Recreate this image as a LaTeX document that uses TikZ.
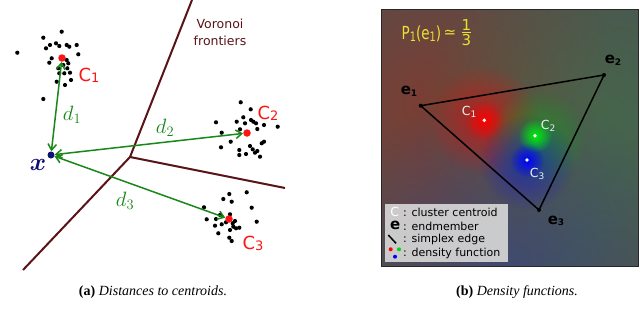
\documentclass[tikz,border=0pt]{standalone}
\usepackage{amsmath}
\usepackage{graphicx}
\usepackage{fontspec}
\setmainfont{Liberation Serif}
\newfontfamily\dv{DejaVu Sans}
\usetikzlibrary{arrows.meta,fadings}
\tikzfading[name=radfade, inner color=transparent!0, outer color=transparent!100]
\definecolor{vorcol}{RGB}{90,20,25}
\definecolor{dgreen}{RGB}{25,135,25}
\definecolor{xblue}{RGB}{15,15,120}
\definecolor{cred}{RGB}{255,20,20}
\definecolor{bgbase}{RGB}{78,82,80}
\definecolor{fyellow}{RGB}{232,226,50}
\definecolor{legbg}{RGB}{214,214,214}
\definecolor{clab}{RGB}{238,238,238}
\definecolor{framecol}{RGB}{40,40,40}
\definecolor{bred}{RGB}{150,50,35}
\definecolor{bgreen}{RGB}{60,120,75}
\definecolor{bblue}{RGB}{50,70,140}
\newcommand\mysub[3]{\raisebox{-#3pt}{\fontsize{#2}{#2}\selectfont #1}}
\tikzset{
  vor/.style={draw=vorcol, line width=2pt},
  vortext/.style={text=vorcol, font=\dv\fontsize{12.5}{12.5}\selectfont, inner sep=0, anchor=base},
  pt/.style={fill=black},
  cdot/.style={circle, fill=cred, inner sep=0, minimum size=7.5pt},
  xdot/.style={circle, fill=xblue, inner sep=0, minimum size=7pt},
  darr/.style={draw=dgreen, line width=1.5pt, {Straight Barb[length=6pt,width=8.5pt]}-{Straight Barb[length=6pt,width=8.5pt]}},
  dlab/.style={text=dgreen, font=\fontsize{20.74}{20.74}\selectfont, inner sep=0},
  clabL/.style={text=cred, font=\dv\fontsize{18}{18}\selectfont, inner sep=0},
  clabR/.style={text=clab, font=\dv\fontsize{12.5}{12.5}\selectfont, inner sep=0},
  elab/.style={text=black, font=\dv\bfseries\fontsize{15}{15}\selectfont, inner sep=0},
  vdot/.style={circle, fill=black, inner sep=0, minimum size=4pt},
  wdot/.style={circle, fill=white, inner sep=0, minimum size=3.8pt},
  edge/.style={draw=black, line width=1.5pt},
  glow/.style={path fading=radfade},
  ytext/.style={text=fyellow, inner sep=0},
  legtext/.style={text=black, font=\dv\fontsize{11}{11}\selectfont, inner sep=0, anchor=west},
  captext/.style={font=\fontsize{14}{14}\selectfont, inner sep=0},
}
\begin{document}
\begin{tikzpicture}[x=1pt,y=-1pt]
\useasboundingbox (0,0) rectangle (640,316);
\fill[white] (0,0) rectangle (640,316);

% ---------------- left panel ----------------
\coordinate (vt) at (192,0);
\coordinate (vj) at (130,157);
\coordinate (vb) at (23,270);
\coordinate (vr) at (285,188);
\draw[vor] (vt) -- (vj) -- (vb);
\draw[vor] (vj) -- (vr);
\node[vortext] (vor1) at (220,28.3) {Voronoi};
\node[vortext] (vor2) at (220,45) {frontiers};

\foreach \x/\y in {61.7/31.7, 43.3/37.7, 50/45, 46/48.3, 56/43.3, 59.3/46, 66.7/45, 69.3/46.7, 76.7/45, 78.3/54.3, 17.3/52.7, 51.7/58.3, 49.3/62.7, 58.3/68.3, 63.3/65, 68.3/63.3, 67.3/68.3, 70/72.7, 64.3/73.3, 59.3/73.3, 56.7/81.7, 71/80, 65/85, 43.3/99, 66.7/60,
  240.7/102.3, 250.7/109.3, 216/122.3, 236.7/121.7, 243.3/117.3, 245/123.3, 251/120, 253.3/121.7, 256/123.3, 264/125, 277.7/126.7, 257.3/129, 221.7/132.7, 230.7/141.7, 240/129.3, 221/147.3, 239.3/150, 239.3/155, 246/154, 250/146, 252.7/149.3, 257.3/151, 261.7/143.3, 264/141.7, 260/156.7, 255/152.7,
  229.3/194, 246.7/192.3, 223.3/199, 231.7/201.7, 251.7/207.7, 204/207.3, 206.7/219.3, 216/219, 220/215, 230/214.3, 226/222.3, 215/225.7, 221.7/224.3, 232.7/223.3, 235/221, 239.3/227.7, 233.3/226.7, 230/230, 218.3/233.3, 256.7/221.7, 229.3/237.7, 231.7/241, 236/228.3}
  \fill[pt] (\x,\y) circle (2.1);

\node[cdot] (c1) at (62,58) {};
\node[cdot] (c2) at (247,133) {};
\node[cdot] (c3) at (229,219) {};
\node[xdot] (xp) at (51,155) {};

\draw[darr] (xp) -- (c1);
\draw[darr] (xp) -- (c2);
\draw[darr] (xp) -- (c3);

\node[dlab] (d1) at (72,115) {$d_1$};
\node[dlab] (d2) at (165,128) {$d_2$};
\node[dlab] (d3) at (125,201) {$d_3$};
\node[text=xblue, inner sep=0, font=\fontsize{24.88}{24.88}\selectfont] (xl) at (38,165) {$\boldsymbol{x}$};

\node[clabL] (l1) at (89,75) {C\mysub{1}{13}{1}};
\node[clabL] (l2) at (268,113) {C\mysub{2}{13}{1}};
\node[clabL] (l3) at (253,243) {C\mysub{3}{13}{1}};

\node[captext] (capa) at (153,292) {\textbf{(a)} \textit{Distances to centroids.}};

% ---------------- right panel ----------------
\begin{scope}
\clip (381.5,9.5) rectangle (638.5,266.5);
\fill[bgbase] (381.5,9.5) rectangle (638.5,266.5);
\fill[bred, fill opacity=0.65, glow] (430,105) circle (200);
\fill[bgreen, fill opacity=0.55, glow] (605,120) circle (190);
\fill[bblue, fill opacity=0.55, glow] (505,262) circle (175);
\fill[red, fill opacity=0.55, glow] (484.3,120.3) circle (55);
\fill[green!75!black, fill opacity=0.5, glow] (537,138) circle (50);
\fill[blue, fill opacity=0.5, glow] (527,162) circle (48);
\fill[red, fill opacity=0.9, glow] (484.3,120.3) circle (20);
\fill[green, fill opacity=0.9, glow] (535,135.7) circle (17);
\fill[blue, fill opacity=0.9, glow] (527,160) circle (17);
\end{scope}

\node[vdot] (e1) at (420.7,105.7) {};
\node[vdot] (e2) at (604,75) {};
\node[vdot] (e3) at (539,210) {};
\draw[edge] (e1.center) -- (e2.center) -- (e3.center) -- cycle;

\node[wdot] (r1) at (484.3,120.3) {};
\node[wdot] (r2) at (535,135.7) {};
\node[wdot] (r3) at (527,160) {};

\node[clabR] (rl1) at (469,112) {C\mysub{1}{9}{1.3}};
\node[clabR] (rl2) at (548,126) {C\mysub{2}{9}{1.3}};
\node[clabR] (rl3) at (537,174) {C\mysub{3}{9}{1.3}};

\node[elab] (el1) at (409,91) {e\mysub{1}{9}{1.7}};
\node[elab] (el2) at (613,60) {e\mysub{2}{9}{1.7}};
\node[elab] (el3) at (556,221) {e\mysub{3}{9}{1.7}};

% formula
\node[ytext, font=\dv\fontsize{18}{18}\selectfont, anchor=base west] (pf) at (401.5,39.7) {\scalebox{0.75}[1]{P\mysub{1}{13}{1.6}(e\mysub{1}{13}{1.6})}};
\node[ytext, font=\dv\fontsize{15}{15}\selectfont] (ap) at (450,33.5) {≃};
\node[ytext, font=\dv\fontsize{15}{15}\selectfont] (fn) at (466.5,25) {1};
\node[ytext, font=\dv\fontsize{15}{15}\selectfont] (fd) at (466.5,39.7) {3};
\coordinate (fb1) at (462,32.4);
\coordinate (fb2) at (471,32.4);
\draw[fyellow, line width=0.8pt] (fb1) -- (fb2);

% legend
\fill[legbg, fill opacity=0.92] (385,203.5) rectangle (507.5,261.5);
\node[text=white, font=\dv\fontsize{12.5}{12.5}\selectfont, inner sep=0] (lc) at (394.7,212.2) {C};
\node[text=black, font=\dv\bfseries\fontsize{15}{15}\selectfont, inner sep=0] (le) at (395.3,225.5) {e};
\coordinate (ls1) at (388.3,235);
\coordinate (ls2) at (396,243.3);
\draw[edge] (ls1) -- (ls2);
\node[circle, fill=red, inner sep=0, minimum size=4pt] (ldr) at (390.7,249.3) {};
\node[circle, fill=green!85!black, inner sep=0, minimum size=4pt] (ldg) at (399,249.3) {};
\node[circle, fill=blue, inner sep=0, minimum size=4pt] (ldb) at (395,256.7) {};
\node[legtext] (t1) at (403,212.7) {: cluster centroid};
\node[legtext] (t2) at (403,226.7) {: endmember};
\node[legtext] (t3) at (403,239.8) {: simplex edge};
\node[legtext] (t4) at (403,253.3) {: density function};

\draw[framecol, line width=1.2pt] (381.5,9.5) rectangle (638.5,266.5);

\node[captext] (capb) at (517,292) {\textbf{(b)} \textit{Density functions.}};
\end{tikzpicture}
\end{document}
